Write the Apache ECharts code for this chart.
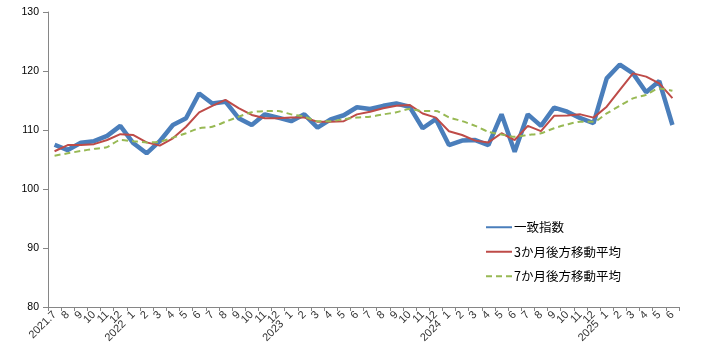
<!DOCTYPE html>
<html><head><meta charset="utf-8">
<script src="https://cdn.jsdelivr.net/npm/echarts@6/dist/echarts.min.js"></script>
<style>html,body{margin:0;padding:0;background:#fff}#c{width:701px;height:357px}</style>
</head><body><div id="c"></div>
<script>
// category (tick) labels
var categories = ['2021.7','8','9','10','11','12','2022.1','2','3','4','5','6','7','8','9','10','11','12','2023.1','2','3','4','5','6','7','8','9','10','11','12','2024.1','2','3','4','5','6','7','8','9','10','11','12','2025.1','2','3','4','5','6'];
// series values
var coincidentIndex = [107.5,106.6,107.85,108.1,109.0,110.7,107.75,106.05,108.1,110.85,112.0,116.2,114.5,114.8,112.0,110.85,112.65,112.1,111.5,112.65,110.4,111.8,112.5,113.85,113.55,114.1,114.5,113.95,110.3,111.85,107.45,108.2,108.3,107.45,112.65,106.3,112.65,110.7,113.8,113.1,112.0,111.15,118.75,121.1,119.6,116.4,118.3,110.85];
var ma3 = [106.4,107.45,107.45,107.6,108.3,109.3,109.15,107.9,107.35,108.6,110.55,113.0,114.1,115.1,113.7,112.55,112.0,112.0,112.1,112.1,111.4,111.4,111.5,112.65,113.1,113.7,114.1,114.25,112.8,112.1,109.8,109.15,108.2,107.9,109.45,108.3,110.7,109.8,112.4,112.45,112.65,112.1,113.95,116.8,119.6,119.05,117.9,115.4];
var ma7 = [105.65,106.05,106.45,106.8,107.1,108.3,108.1,107.9,108.0,108.7,109.45,110.3,110.55,111.4,112.25,113.0,113.2,113.2,112.65,112.25,111.5,111.5,111.85,112.1,112.25,112.65,113.0,113.55,113.2,113.2,112.15,111.5,110.7,109.7,109.25,108.85,109.15,109.45,110.3,110.95,111.4,111.4,112.8,114.1,115.35,115.95,117.05,116.65];
var seriesNames = ['一致指数','3か月後方移動平均','7か月後方移動平均'];
var yTicks = {min:80, max:130, interval:10};

var chart = echarts.init(document.getElementById('c'), null, {renderer:'canvas'});
var axisColor = '#868686';
var lblFont = '"Liberation Sans"';
chart.setOption({
  animation:false,
  backgroundColor:'#fff',
  grid:{left:48, right:22, top:12, bottom:50, containLabel:false},
  legend:{
    orient:'vertical', left:480, top:216, itemWidth:26, itemHeight:12, itemGap:12,
    itemStyle:{opacity:0},
    textStyle:{fontFamily:'"Noto Sans CJK JP"', fontSize:12.5, color:'#000', padding:[0,0,0,-3]},
    data:seriesNames
  },
  xAxis:{
    type:'category', data:categories, boundaryGap:true,
    axisLine:{lineStyle:{color:axisColor, width:1}},
    axisTick:{show:true, interval:0, length:4, lineStyle:{color:axisColor}},
    axisLabel:{
      interval:0, rotate:45, margin:6, fontSize:11, color:'#333', fontFamily:lblFont,
      formatter:function(v, i){
        if(i>0 && v.indexOf('.')>0){
          var p=v.split('.');
          return '{y|'+p[0]+'}{n|'+p[1]+'}';
        }
        return v;
      },
      rich:{
        y:{fontSize:11, color:'#333', fontFamily:lblFont, verticalAlign:'bottom', padding:[0,7,0,0], lineHeight:11},
        n:{fontSize:11, color:'#333', fontFamily:lblFont, verticalAlign:'top', lineHeight:11}
      }
    },
    splitLine:{show:false}
  },
  yAxis:{
    type:'value', min:yTicks.min, max:yTicks.max, interval:yTicks.interval,
    axisLine:{show:true, lineStyle:{color:axisColor}},
    axisTick:{show:true, length:5, lineStyle:{color:axisColor}},
    axisLabel:{fontSize:10.5, color:'#000', margin:9, fontFamily:lblFont},
    splitLine:{show:false}
  },
  series:[
    {name:seriesNames[0], type:'line', data:coincidentIndex, symbol:'none', z:1,
     lineStyle:{color:'#4A7EBB', width:4.5}, itemStyle:{color:'#4A7EBB'}},
    {name:seriesNames[1], type:'line', data:ma3, symbol:'none', z:2,
     lineStyle:{color:'#BE4B48', width:2}, itemStyle:{color:'#BE4B48'}},
    {name:seriesNames[2], type:'line', data:ma7, symbol:'none', z:3, smooth:0.25,
     lineStyle:{color:'#98B954', width:2, type:[6,4]}, itemStyle:{color:'#98B954'}}
  ]
});
</script>
</body></html>
